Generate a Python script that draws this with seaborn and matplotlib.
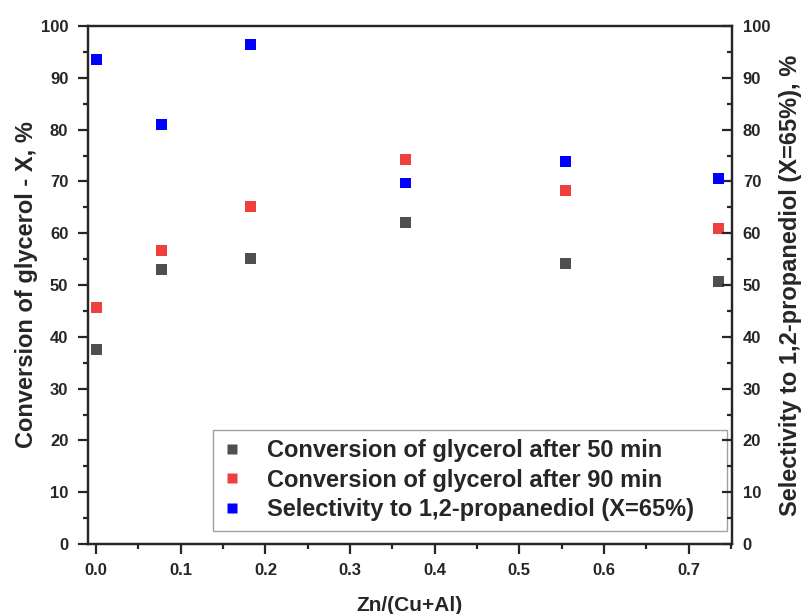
import matplotlib
matplotlib.use("Agg")
import matplotlib.pyplot as plt
from matplotlib.ticker import MultipleLocator
import pandas as pd
import seaborn as sns

# --- Data --------------------------------------------------------------------
zn_ratio = [0.0, 0.077, 0.182, 0.365, 0.555, 0.735]
conv_50min = [37.6, 53.0, 55.1, 62.0, 54.1, 50.6]
conv_90min = [45.7, 56.6, 65.1, 74.3, 68.2, 61.0]
selectivity = [93.5, 80.9, 96.4, 69.7, 73.9, 70.5]

labels = [
    "Conversion of glycerol after 50 min",
    "Conversion of glycerol after 90 min",
    "Selectivity to 1,2-propanediol (X=65%)",
]
colors = ["#4f4f4f", "#ef4040", "#0000ff"]

conv = pd.DataFrame({
    "x": zn_ratio * 2,
    "y": conv_50min + conv_90min,
    "series": [labels[0]] * len(zn_ratio) + [labels[1]] * len(zn_ratio),
})
sel = pd.DataFrame({"x": zn_ratio, "y": selectivity, "series": labels[2]})

# --- Plot --------------------------------------------------------------------
sns.set_style("ticks")
plt.rcParams["font.family"] = ["Liberation Sans", "DejaVu Sans"]

fig = plt.figure(figsize=(8.07, 6.14), dpi=100)
ax = fig.add_axes([0.1087, 0.114, 0.798, 0.8436])
ax2 = ax.twinx()

sns.scatterplot(data=conv, x="x", y="y", hue="series", palette=colors[:2],
                marker="s", s=62, edgecolor="none", ax=ax, legend=False)
sns.scatterplot(data=sel, x="x", y="y", hue="series", palette=colors[2:],
                marker="s", s=62, edgecolor="none", ax=ax2, legend=False)

for a in (ax, ax2):
    a.set_xlim(-0.01, 0.751)
    a.set_ylim(0, 100)
    a.yaxis.set_major_locator(MultipleLocator(10))
    a.yaxis.set_minor_locator(MultipleLocator(5))
    for s in a.spines.values():
        s.set_linewidth(1.6)
        s.set_visible(True)

ax.xaxis.set_major_locator(MultipleLocator(0.1))
ax.xaxis.set_minor_locator(MultipleLocator(0.05))
ax.xaxis.set_major_formatter(plt.FuncFormatter(lambda v, p: f"{v:.1f}"))
ax.tick_params(which="major", direction="out", length=7, width=1.6,
               labelsize=12)
ax.tick_params(which="minor", direction="out", length=3.5, width=1.6)
ax.tick_params(axis="x", which="both", top=False, pad=6.5)
ax.tick_params(axis="y", which="major", pad=7)
# right axis ticks point inward
ax2.tick_params(which="major", direction="in", length=7, width=1.6,
                labelsize=12, pad=8)
ax2.tick_params(which="minor", direction="in", length=3.5, width=1.6)

for lab in ax.get_xticklabels() + ax.get_yticklabels() + ax2.get_yticklabels():
    lab.set_fontweight("bold")

ax.set_xlabel("Zn/(Cu+Al)", fontsize=15, fontweight="bold", labelpad=13)
ax.set_ylabel("Conversion of glycerol - X, %", fontsize=17, fontweight="bold",
              labelpad=2)
ax2.set_ylabel("Selectivity to 1,2-propanediol (X=65%), %", fontsize=17,
               fontweight="bold", labelpad=6)

# legend box stretched to the same width as in the reference
handles = [plt.Line2D([], [], marker="s", linestyle="none", markersize=7.7,
                      markerfacecolor=c, markeredgecolor="none") for c in colors]
leg = ax.legend(handles, labels, loc="lower left", mode="expand",
                bbox_to_anchor=(0.1946, 0.0257, 0.7986, 0.2), frameon=True,
                fancybox=False, prop={"weight": "bold", "size": 17},
                handletextpad=1.09, borderpad=0.4, borderaxespad=0,
                labelspacing=0.28, handlelength=0.8)
leg.get_frame().set_edgecolor("#888888")
leg.get_frame().set_linewidth(1.0)

plt.savefig("out.png", dpi=100)
plt.close()
